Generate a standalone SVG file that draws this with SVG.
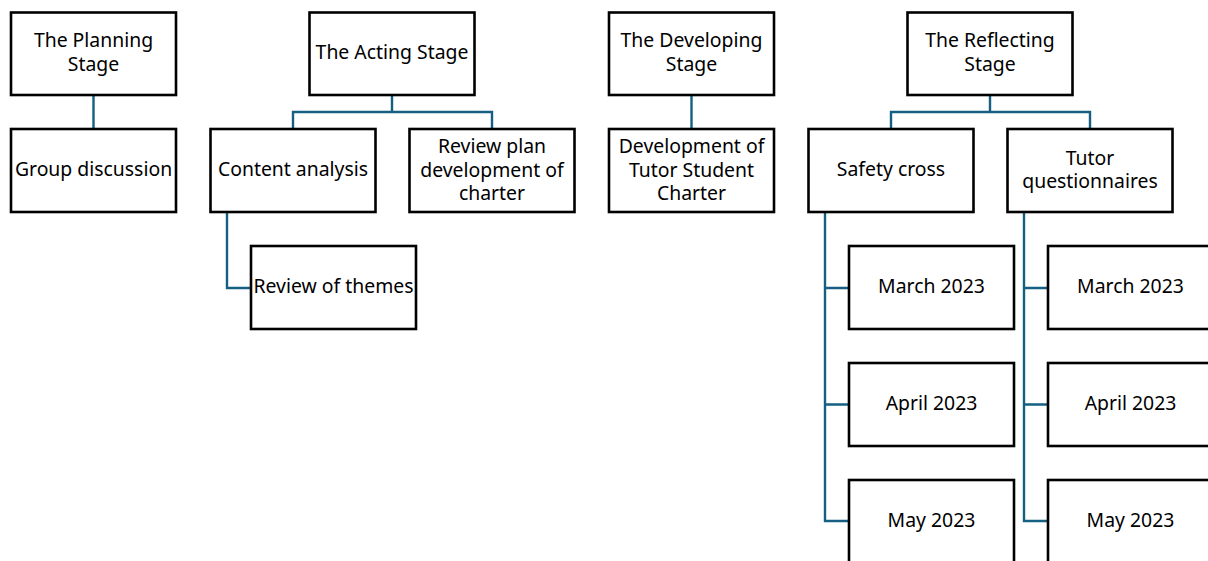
<svg xmlns="http://www.w3.org/2000/svg" width="1208" height="561" viewBox="0 0 1208 561">
  <style>
    .box { fill: #ffffff; stroke: #000000; stroke-width: 2.6; }
    .lbl { font-family: "Noto Sans", "Open Sans", sans-serif; font-size: 19.4px; fill: #000000; text-anchor: middle; }
    .link { fill: none; stroke: #156082; stroke-width: 2.4; }
  </style>
  <rect width="1208" height="561" fill="#ffffff"/>

  <!-- connectors -->
  <g id="connectors">
    <path class="link" d="M93.5 95 V129"/>
    <path class="link" d="M392 95 V112 M293 129 V112 H492 V129"/>
    <path class="link" d="M227 212 V288 H251"/>
    <path class="link" d="M691.5 95 V129"/>
    <path class="link" d="M990 95 V112 M891 129 V112 H1090 V129"/>
    <path class="link" d="M825 212 V521 H849 M825 288 H849 M825 404.5 H849"/>
    <path class="link" d="M1024 212 V521 H1048 M1024 288 H1048 M1024 404.5 H1048"/>
  </g>

  <!-- planning stage -->
  <g id="planning">
    <rect class="box" x="11" y="12.5" width="165" height="82.5"/>
    <text class="lbl" x="93.5" y="47">The Planning</text>
    <text class="lbl" x="93.5" y="70.5">Stage</text>
  </g>
  <g id="group-discussion">
    <rect class="box" x="11" y="129" width="165" height="83"/>
    <text class="lbl" x="93.5" y="176">Group discussion</text>
  </g>

  <!-- acting stage -->
  <g id="acting">
    <rect class="box" x="309.5" y="12.5" width="165" height="82.5"/>
    <text class="lbl" x="392" y="59">The Acting Stage</text>
  </g>
  <g id="content-analysis">
    <rect class="box" x="210.5" y="129" width="165" height="83"/>
    <text class="lbl" x="293" y="176">Content analysis</text>
  </g>
  <g id="review-plan">
    <rect class="box" x="409.5" y="129" width="165" height="83"/>
    <text class="lbl" x="492" y="153">Review plan</text>
    <text class="lbl" x="492" y="176.5">development of</text>
    <text class="lbl" x="492" y="200">charter</text>
  </g>
  <g id="review-themes">
    <rect class="box" x="251" y="246" width="165" height="83"/>
    <text class="lbl" x="333.5" y="293">Review of themes</text>
  </g>

  <!-- developing stage -->
  <g id="developing">
    <rect class="box" x="609" y="12.5" width="165" height="82.5"/>
    <text class="lbl" x="691.5" y="47">The Developing</text>
    <text class="lbl" x="691.5" y="70.5">Stage</text>
  </g>
  <g id="charter">
    <rect class="box" x="609" y="129" width="165" height="83"/>
    <text class="lbl" x="691.5" y="153">Development of</text>
    <text class="lbl" x="691.5" y="176.5">Tutor Student</text>
    <text class="lbl" x="691.5" y="200">Charter</text>
  </g>

  <!-- reflecting stage -->
  <g id="reflecting">
    <rect class="box" x="907.5" y="12.5" width="165" height="82.5"/>
    <text class="lbl" x="990" y="47">The Reflecting</text>
    <text class="lbl" x="990" y="70.5">Stage</text>
  </g>
  <g id="safety-cross">
    <rect class="box" x="808.5" y="129" width="165" height="83"/>
    <text class="lbl" x="891" y="176">Safety cross</text>
  </g>
  <g id="tutor-questionnaires">
    <rect class="box" x="1007.5" y="129" width="165" height="83"/>
    <text class="lbl" x="1090" y="164.5">Tutor</text>
    <text class="lbl" x="1090" y="188">questionnaires</text>
  </g>

  <g id="sc-march">
    <rect class="box" x="849" y="246" width="165" height="83"/>
    <text class="lbl" x="931.5" y="293">March 2023</text>
  </g>
  <g id="sc-april">
    <rect class="box" x="849" y="363" width="165" height="83"/>
    <text class="lbl" x="931.5" y="410">April 2023</text>
  </g>
  <g id="sc-may">
    <rect class="box" x="849" y="480" width="165" height="83"/>
    <text class="lbl" x="931.5" y="527">May 2023</text>
  </g>

  <g id="tq-march">
    <rect class="box" x="1048" y="246" width="165" height="83"/>
    <text class="lbl" x="1130.5" y="293">March 2023</text>
  </g>
  <g id="tq-april">
    <rect class="box" x="1048" y="363" width="165" height="83"/>
    <text class="lbl" x="1130.5" y="410">April 2023</text>
  </g>
  <g id="tq-may">
    <rect class="box" x="1048" y="480" width="165" height="83"/>
    <text class="lbl" x="1130.5" y="527">May 2023</text>
  </g>
</svg>
